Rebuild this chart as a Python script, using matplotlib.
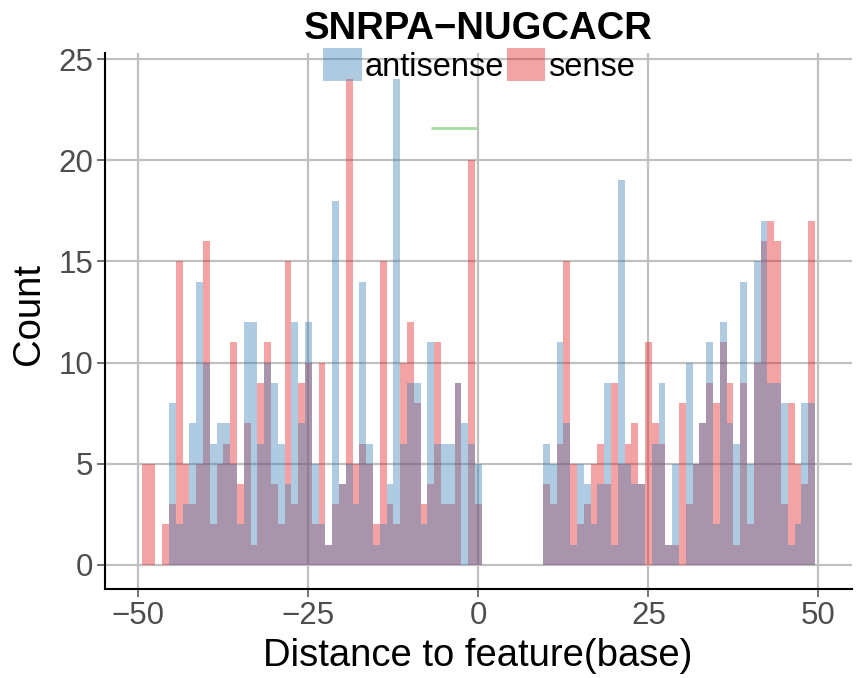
import matplotlib
matplotlib.use("Agg")
import matplotlib.pyplot as plt
from matplotlib.patches import Patch

plt.rcParams['font.family'] = ['Liberation Sans', 'DejaVu Sans']

title = "SNRPA\u2212NUGCACR"
x_label = "Distance to feature(base)"
y_label = "Count"
series_names = ["antisense", "sense"]

positions = list(range(-49, 1)) + list(range(10, 50))

sense_counts = [
    5, 5, 0, 2, 3, 15, 5, 3, 5, 16,      # -49..-40
    2, 5, 6, 11, 4, 7, 1, 9, 11, 4,      # -39..-30
    2, 15, 3, 9, 10, 2, 10, 1, 3, 4,     # -29..-20
    24, 5, 6, 5, 2, 15, 3, 2, 10, 12,    # -19..-10
    8, 3, 4, 11, 3, 3, 9, 0, 20, 3,      # -9..0
    4, 3, 6, 15, 5, 2, 3, 5, 6, 4,       # 10..19
    9, 5, 6, 7, 4, 11, 7, 6, 1, 1,       # 20..29
    8, 3, 5, 7, 9, 8, 11, 9, 1, 9,       # 30..39
    2, 10, 16, 17, 16, 3, 8, 5, 4, 17,   # 40..49
]

antisense_counts = [
    0, 0, 0, 0, 8, 2, 3, 7, 14, 10,      # -49..-40
    6, 7, 7, 5, 2, 12, 12, 6, 10, 9,     # -39..-30
    6, 4, 12, 7, 12, 5, 2, 1, 18, 4,     # -29..-20
    5, 3, 14, 6, 1, 2, 4, 24, 6, 9,      # -19..-10
    9, 2, 11, 6, 6, 6, 9, 7, 6, 5,       # -9..0
    6, 5, 11, 7, 1, 5, 4, 2, 4, 9,       # 10..19
    1, 19, 5, 4, 4, 0, 6, 9, 1, 5,       # 20..29
    0, 10, 5, 7, 11, 2, 12, 7, 6, 14,    # 30..39
    5, 15, 17, 9, 9, 8, 1, 2, 8, 8,      # 40..49
]

marker_x = [-7, 0]
marker_y = [21.6, 21.6]

x_ticks = [-50, -25, 0, 25, 50]
x_ticklabels = ["\u221250", "\u221225", "0", "25", "50"]
y_ticks = [0, 5, 10, 15, 20, 25]

blue = "#377EB8"
red = "#E41A1C"
alpha = 0.4

fig = plt.figure(figsize=(8.66, 6.78), dpi=100)
ax = fig.add_axes([105/866, 1 - 589/678, (852 - 105)/866, (589 - 53)/678])

ax.bar(positions, sense_counts, width=1.0, color=red, alpha=alpha, linewidth=0, zorder=2)
ax.bar(positions, antisense_counts, width=1.0, color=blue, alpha=alpha, linewidth=0, zorder=3)
ax.plot(marker_x, marker_y, color="#a6dba0", lw=2, zorder=4, solid_capstyle="butt")

ax.set_xlim(-54.9, 54.95)
ax.set_ylim(-1.19, 25.3)
ax.set_xticks(x_ticks)
ax.set_xticklabels(x_ticklabels)
ax.set_yticks(y_ticks)
ax.grid(True, color="#c0c0c0", lw=1.6, zorder=0)
ax.set_axisbelow(True)
for s in ["top", "right"]:
    ax.spines[s].set_visible(False)
for s in ["left", "bottom"]:
    ax.spines[s].set_color("black")
    ax.spines[s].set_linewidth(1.5)
ax.tick_params(axis="both", colors="#4d4d4d", labelsize=22.5, length=6, width=1.1, direction="out")
ax.tick_params(axis="x", pad=2.5)
ax.tick_params(axis="y", pad=2.5)

fig.text(477.5/866, 1 - 666/678, x_label, ha="center", va="baseline", fontsize=27.5, color="black")
fig.text(29/866, 1 - 314/678, y_label, ha="center", va="center", rotation=90, fontsize=27.5, color="black")
fig.text(478.5/866, 1 - 39/678, title, ha="center", va="baseline", fontsize=27.5, fontweight="bold", color="black")

handles = [Patch(facecolor=blue, alpha=alpha, edgecolor="none"),
           Patch(facecolor=red, alpha=alpha, edgecolor="none")]
fig.legend(handles, series_names, loc="center", bbox_to_anchor=(479/866, 1 - 65.5/678),
           ncol=2, frameon=False, fontsize=23.5, handlelength=1.18, handleheight=1.18,
           handletextpad=0.08, columnspacing=0.08, borderpad=0, borderaxespad=0)

fig.savefig("out.png", dpi=100)
